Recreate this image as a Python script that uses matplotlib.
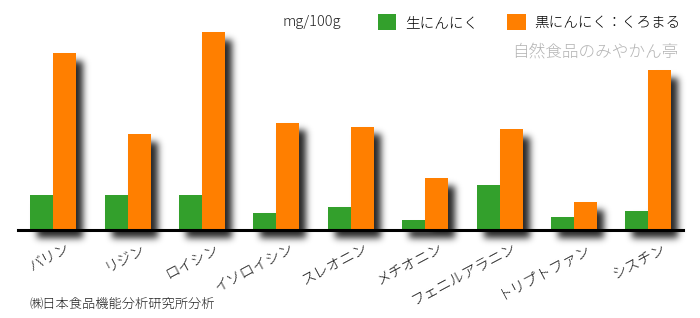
import numpy as np
import matplotlib
matplotlib.use("Agg")
import matplotlib.pyplot as plt
from matplotlib.transforms import ScaledTranslation

plt.rcParams['font.family'] = ['Noto Sans CJK JP', 'DejaVu Sans']

# amino acids, mg/100g
amino = ['バリン', 'リジン', 'ロイシン', 'イソロイシン', 'スレオニン',
         'メチオニン', 'フェニルアラニン', 'トリプトファン', 'シスチン']
raw = [70, 70, 70, 35, 47, 20, 90, 26, 39]
black = [354, 192, 396, 215, 207, 104, 202, 56, 320]

c_raw = '#33a02c'
c_black = '#ff7f00'

W, H = 700, 318
fig = plt.figure(figsize=(W / 100, H / 100), dpi=100)
fig.patch.set_facecolor('white')
ax = fig.add_axes([18 / W, (H - 230) / H, 665 / W, 230 / H])
ax.set_facecolor('none')

x = np.arange(len(amino))
bw = 0.309
b1 = ax.bar(x - bw / 2, raw, bw, color=c_raw, label='生にんにく', zorder=3)
b2 = ax.bar(x + bw / 2, black, bw, color=c_black, label='黒にんにく：くろまる', zorder=3)

ax.set_xlim(-0.474, 8.464)
ax.set_ylim(0, 460)
for s in ['top', 'left', 'right']:
    ax.spines[s].set_visible(False)
ax.spines['bottom'].set_linewidth(2.2)
ax.spines['bottom'].set_zorder(5)
ax.set_yticks([])
ax.set_xticks(x)
ax.set_xticklabels(amino, rotation=28, ha='right', va='top',
                   rotation_mode='anchor', fontsize=10.5, fontweight='light',
                   color='#111111')
ax.tick_params(axis='x', length=0, pad=8)
shift = ScaledTranslation(0.13, 0, fig.dpi_scale_trans)
for lab in ax.get_xticklabels():
    lab.set_transform(lab.get_transform() + shift)

# drop shadow behind the bars
fig.canvas.draw()
mask = np.zeros((H, W))
dx, dy = 7, 8
for p in list(b1) + list(b2):
    bb = p.get_window_extent()
    x0 = int(round(bb.x0)) + dx
    x1 = int(round(bb.x1)) + dx
    r0 = int(round(H - bb.y1)) + dy
    r1 = int(round(H - bb.y0)) + dy
    mask[max(r0, 0):min(r1, H), max(x0, 0):min(x1, W)] = 1.0
sig = 3.5
k = np.arange(-12, 13)
kern = np.exp(-k ** 2 / (2 * sig ** 2))
kern /= kern.sum()
mask = np.apply_along_axis(lambda r: np.convolve(r, kern, mode='same'), 1, mask)
mask = np.apply_along_axis(lambda c: np.convolve(c, kern, mode='same'), 0, mask)
shadow = np.zeros((H, W, 4))
shadow[..., 3] = np.clip(mask * 0.85, 0, 1)
fig.figimage(shadow, 0, 0, origin='upper', zorder=-1)

leg = fig.legend(handles=[b1, b2], loc='center left',
                 bbox_to_anchor=(378 / W, 1 - 22 / H), ncol=2, frameon=False,
                 fontsize=10.5, handlelength=1.25, handleheight=1.25,
                 handletextpad=0.6, columnspacing=2.0, borderpad=0,
                 borderaxespad=0)
for t in leg.get_texts():
    t.set_fontweight('light')
fig.text(283 / W, 1 - 22 / H, 'mg/100g', fontsize=10.5, ha='left', va='center',
         color='#222222', fontweight='light')
fig.text(678 / W, 1 - 52 / H, '自然食品のみやかん亭', fontsize=12, ha='right',
         va='center', color='#b4b4b4', fontweight='light')
fig.text(30 / W, 1 - 304 / H, '㈱日本食品機能分析研究所分析', fontsize=9.5,
         ha='left', va='center', color='#222222', fontweight='light')

fig.savefig('out.png', dpi=100)
